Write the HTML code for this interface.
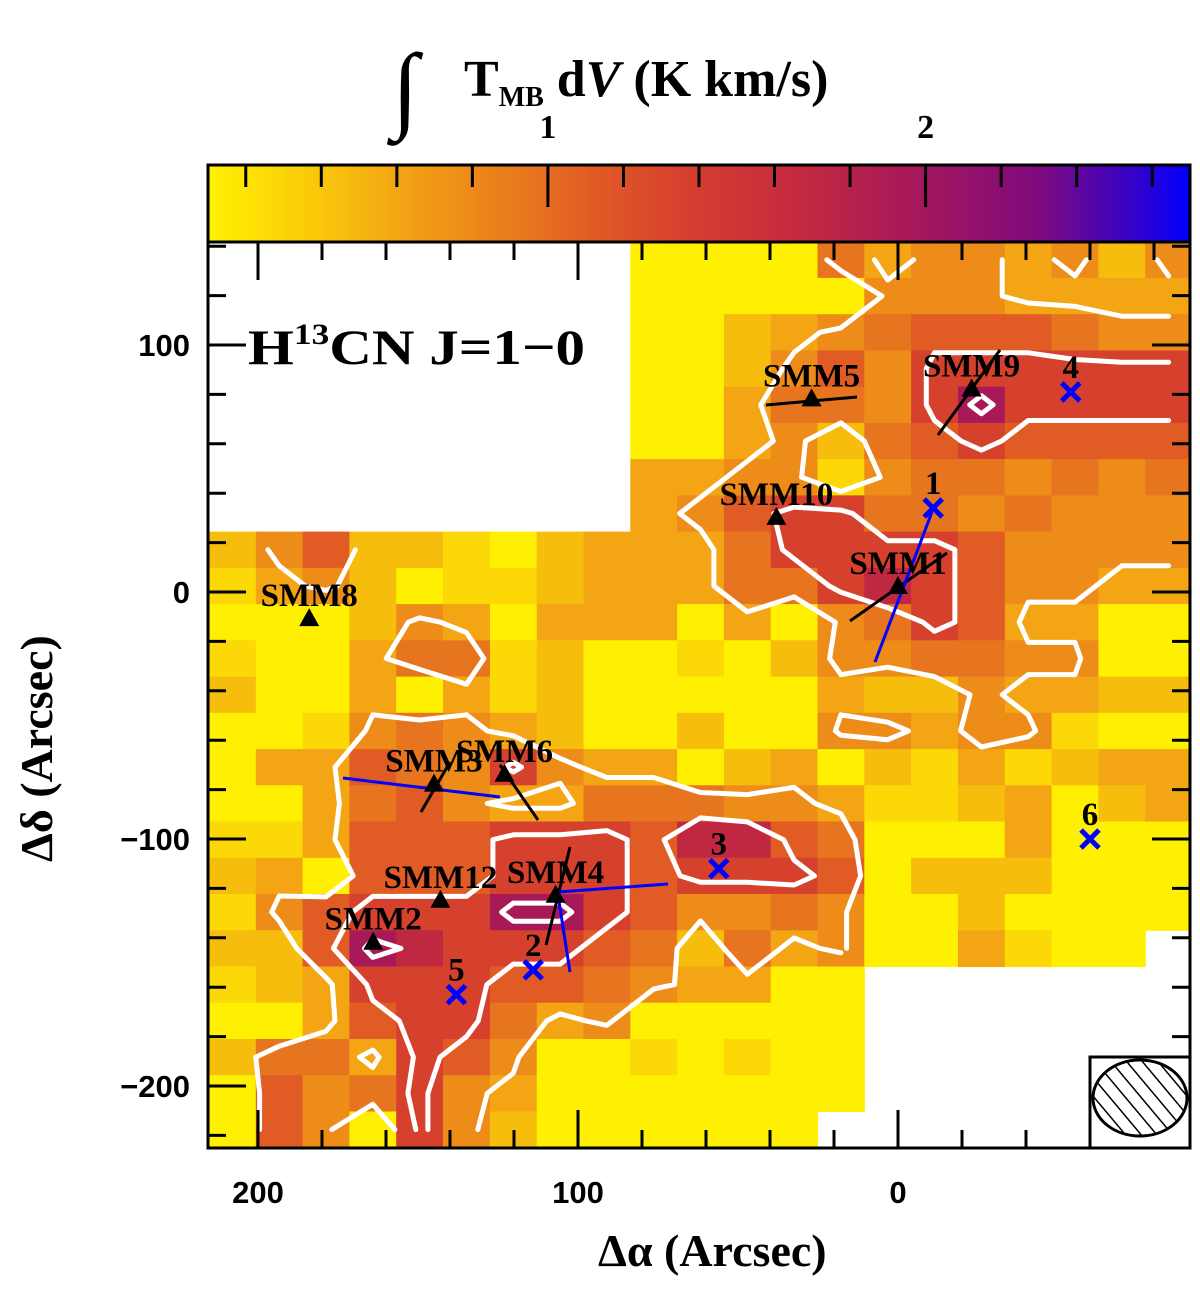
<!DOCTYPE html>
<html><head><meta charset="utf-8"><style>
html,body{margin:0;padding:0;background:#fff;}
svg{display:block;}
.tk{font-family:"Liberation Sans",sans-serif;font-weight:bold;font-size:31px;fill:#000;}
.lab{font-family:"Liberation Serif",serif;font-weight:bold;font-size:33px;fill:#000;}
.ttl{font-family:"Liberation Serif",serif;font-weight:bold;font-size:46px;fill:#000;}
</style></head><body>
<svg id="chart" width="1200" height="1289" viewBox="0 0 1200 1289" xmlns="http://www.w3.org/2000/svg">
<defs>
<clipPath id="plotclip"><rect x="208" y="242" width="982" height="906"/></clipPath>
<linearGradient id="cbgrad" x1="0" x2="1" y1="0" y2="0"></linearGradient>
<pattern id="hatch" patternUnits="userSpaceOnUse" width="12" height="12" patternTransform="rotate(-40)"><line x1="0" y1="0" x2="0" y2="12" stroke="#000" stroke-width="3"/></pattern>
</defs>
<g id="cells" clip-path="url(#plotclip)"></g>
<g id="contours" clip-path="url(#plotclip)"></g>
<g id="markers"></g>
<g id="axes"></g>
<text id="linelab" class="lab" x="248" y="364" style="font-size:50px">H<tspan dy="-20" style="font-size:30px">13</tspan><tspan dy="20">CN J=1−0</tspan></text>
<text class="ttl" x="598" y="1266">Δα (Arcsec)</text>
<text class="ttl" transform="translate(52,862) rotate(-90)">Δδ (Arcsec)</text>
<g>
<text class="ttl" x="392" y="120" style="font-size:96px;font-weight:normal">∫</text>
<text class="ttl" x="464" y="96" style="font-size:52px">T<tspan dy="10" style="font-size:28px">MB</tspan><tspan dy="-10"> d<tspan font-style="italic">V</tspan> (K km/s)</tspan></text>
</g>
<g id="beam">
<rect x="1090" y="1057" width="100" height="91" fill="#fff" stroke="#000" stroke-width="3"/>
<ellipse cx="1140" cy="1098" rx="47" ry="38" fill="url(#hatch)" stroke="#000" stroke-width="3"/>
</g>
</svg>
<script>
// ---- data ----
const levelValues = [0.12,0.28,0.45,0.6,0.78,0.95,1.12,1.35,1.7,1.95];
const gridRows = [
".........000053443424",
".........000004443333",
".........002345666544",
".........002464777777",
".........003554797777",
".........003425676666",
".........334414554545",
".........346775545444",
"246221023335777764444",
"134201123335578764433",
"000243033303045763300",
"100355120010244554400",
"200303120000032243322",
"001454320020044344100",
"033654743302302131233",
"003564335554431123023",
"113666777688650003000",
"230666777677760222000",
"146777997644540020000",
"22698777652534003100.",
"12377766543300.......",
"00367753400000.......",
"25537640010100.......",
"06457430000000.......",
"0640742000000........"
];
const contourLevels = [0.7, 1.25, 1.8];
const xTicksMajor = [200, 100, 0];
const xTicksMinor = [200,180,160,140,120,100,80,60,40,20,0,-20,-40,-60,-80];
const yTicksMajor = [100, 0, -100, -200];
const yTicksMinor = [140,120,100,80,60,40,20,0,-20,-40,-60,-80,-100,-120,-140,-160,-180,-200,-220];
const cbTicks = [0.2,0.4,0.6,0.8,1.0,1.2,1.4,1.6,1.8,2.0,2.2,2.4,2.6];
const cbLabels = [1, 2];
const srcNames = ["SMM5","SMM9","SMM10","SMM1","SMM8","SMM3","SMM6","SMM12","SMM2","SMM4"];
const srcRA = [27, -23, 38, 0, 184, 145, 123, 143, 164, 107];
const srcDec = [78, 82, 30, 2, -11, -78, -74, -125, -142, -123];
const posNames = ["1","2","3","4","5","6"];
const posRA = [-11, 114, 56, -54, 138, -60];
const posDec = [34, -153, -112, 81, -163, -100];

// ---- axes functions ----
const NS="http://www.w3.org/2000/svg";
const PL=208, PR=1190, PT=242, PB=1148;
function xPix(a){return 898-3.2*a;}
function yPix(d){return 592-2.47*d;}
const CW=(PR-PL+1)/21, RH=(PB-PT)/25;
function colX(c){return 209+CW*c;}
function rowY(r){return 241.7+RH*r;}
const cbMin=0.10, cbMax=2.70;
function cbX(v){return 208+(v-cbMin)/(cbMax-cbMin)*982;}
const stops=[[0,[255,242,0]],[0.1,[250,204,8]],[0.2,[242,162,20]],[0.32,[232,120,30]],[0.4,[224,88,38]],[0.5,[212,60,48]],[0.6,[196,42,62]],[0.72,[166,24,90]],[0.85,[124,10,128]],[0.95,[48,0,208]],[1,[0,0,255]]];
function cmap(v){
  let t=(v-cbMin)/(cbMax-cbMin); t=Math.max(0,Math.min(1,t));
  for(let i=1;i<stops.length;i++){ if(t<=stops[i][0]){const a=stops[i-1],b=stops[i];const f=(t-a[0])/(b[0]-a[0]);
    const c=a[1].map((x,k)=>Math.round(x+(b[1][k]-x)*f));return `rgb(${c[0]},${c[1]},${c[2]})`;}}
  return "rgb(0,0,255)";
}
function mk(tag,attrs,parent){const e=document.createElementNS(NS,tag);for(const k in attrs)e.setAttribute(k,attrs[k]);parent.appendChild(e);return e;}

const grid = gridRows.map(row=>row.split("").map(ch=>ch==="."?NaN:levelValues[+ch]));

const gCells=document.getElementById("cells");
grid.forEach((row,r)=>row.forEach((v,c)=>{
  if(isNaN(v))return;
  const el=mk("rect",{x:colX(c).toFixed(1),y:rowY(r).toFixed(1),width:(CW+0.6).toFixed(1),height:(RH+0.6).toFixed(1),fill:cmap(v)},gCells);
  
  
}));

const gC=document.getElementById("contours");
contourLevels.forEach(L=>{
  let d="";
  for(let r=0;r<24;r++)for(let c=0;c<20;c++){
    const a=grid[r][c],b=grid[r][c+1],cc=grid[r+1][c+1],dd=grid[r+1][c];
    if(isNaN(a)||isNaN(b)||isNaN(cc)||isNaN(dd))continue;
    const x0=colX(c)+CW/2,x1=x0+CW,y0=rowY(r)+RH/2,y1=y0+RH;
    const idx=(a>=L?8:0)|(b>=L?4:0)|(cc>=L?2:0)|(dd>=L?1:0);
    if(idx===0||idx===15)continue;
    const T=[x0+(L-a)/(b-a)*CW,y0],R=[x1,y0+(L-b)/(cc-b)*RH],B=[x0+(L-dd)/(cc-dd)*CW,y1],Lf=[x0,y0+(L-a)/(dd-a)*RH];
    const segs={1:[[Lf,B]],2:[[B,R]],3:[[Lf,R]],4:[[T,R]],5:[[T,Lf],[B,R]],6:[[T,B]],7:[[T,Lf]],8:[[T,Lf]],9:[[T,B]],10:[[T,R],[Lf,B]],11:[[T,R]],12:[[Lf,R]],13:[[B,R]],14:[[Lf,B]]}[idx];
    segs.forEach(s=>{d+=`M${s[0][0].toFixed(1)},${s[0][1].toFixed(1)}L${s[1][0].toFixed(1)},${s[1][1].toFixed(1)}`;});
  }
  const p=mk("path",{d:d,fill:"none",stroke:"#fff","stroke-width":5,"stroke-linecap":"round","stroke-linejoin":"round"},gC);
  
  
});

const gA=document.getElementById("axes");
mk("rect",{x:PL,y:PT,width:PR-PL,height:PB-PT,fill:"none",stroke:"#000","stroke-width":3},gA);
xTicksMinor.forEach(v=>{const x=xPix(v);const L=xTicksMajor.includes(v)?38:18;
  const t1=mk("line",{x1:x,x2:x,y1:PB,y2:PB-L,stroke:"#000","stroke-width":3},gA);
  
  
  mk("line",{x1:x,x2:x,y1:PT,y2:PT+L,stroke:"#000","stroke-width":3},gA);});
xTicksMajor.forEach(v=>{const t=mk("text",{x:xPix(v),y:1203,"text-anchor":"middle",class:"tk"},gA);t.textContent=String(v);
  
  });
yTicksMinor.forEach(v=>{const y=yPix(v);const L=yTicksMajor.includes(v)?38:18;
  const t1=mk("line",{x1:PL,x2:PL+L,y1:y,y2:y,stroke:"#000","stroke-width":3},gA);
  
  
  mk("line",{x1:PR,x2:PR-L,y1:y,y2:y,stroke:"#000","stroke-width":3},gA);});
yTicksMajor.forEach(v=>{const t=mk("text",{x:190,y:yPix(v)+11,"text-anchor":"end",class:"tk"},gA);t.textContent=v<0?"−"+(-v):String(v);
  
  });

const grad=document.getElementById("cbgrad");
for(let i=0;i<=20;i++){const v=cbMin+(cbMax-cbMin)*i/20;mk("stop",{offset:(i/20).toFixed(3),"stop-color":cmap(v)},grad);}
const cb=mk("rect",{x:PL,y:165,width:PR-PL,height:77,fill:"url(#cbgrad)",stroke:"#000","stroke-width":3},gA);


cbTicks.forEach(v=>{const x=cbX(v);const L=(Math.abs(v-1)<1e-6||Math.abs(v-2)<1e-6)?42:22;
  const t=mk("line",{x1:x,x2:x,y1:165,y2:165+L,stroke:"#000","stroke-width":3},gA);
  
  });
cbLabels.forEach(v=>{const t=mk("text",{x:cbX(v),y:138,"text-anchor":"middle",class:"tk",style:"font-family:'Liberation Serif',serif;font-size:34px"},gA);t.textContent=String(v);
  
  });

const gM=document.getElementById("markers");
const lines=[["#000",766,405,857,397],["#000",938,435,1000,350],["#000",850,621,947,553],["#00f",875,662,932,512],["#000",421,812,450,762],["#00f",343,778,500,797],["#000",500,765,538,820],["#000",546,945,570,847],["#00f",558,892,668,884],["#00f",558,895,570,972]];
lines.forEach(l=>{const e=mk("line",{x1:l[1],y1:l[2],x2:l[3],y2:l[4],stroke:l[0],"stroke-width":3},gM);
  
  });
srcNames.forEach((n,i)=>{const x=xPix(srcRA[i]),y=yPix(srcDec[i]);
  const tri=mk("polygon",{points:`${x},${y-11} ${x-10},${y+7} ${x+10},${y+7}`,fill:"#000"},gM);
  
  
  const t=mk("text",{x:x,y:y-13,"text-anchor":"middle",class:"lab"},gM);t.textContent=n;
  
  });
posNames.forEach((n,i)=>{const x=xPix(posRA[i]),y=yPix(posDec[i]);
  const p=mk("path",{d:`M${x-9},${y-9}L${x+9},${y+9}M${x+9},${y-9}L${x-9},${y+9}`,stroke:"#00f","stroke-width":5},gM);
  
  
  const t=mk("text",{x:x,y:y-14,"text-anchor":"middle",class:"lab"},gM);t.textContent=n;
  
  });
// stretch the line label to reference width
const ll=document.getElementById("linelab");
try{const w=ll.getComputedTextLength();if(w>0&&w<337){ll.setAttribute("textLength","337");ll.setAttribute("lengthAdjust","spacingAndGlyphs");}}catch(e){}
</script>
</body></html>
